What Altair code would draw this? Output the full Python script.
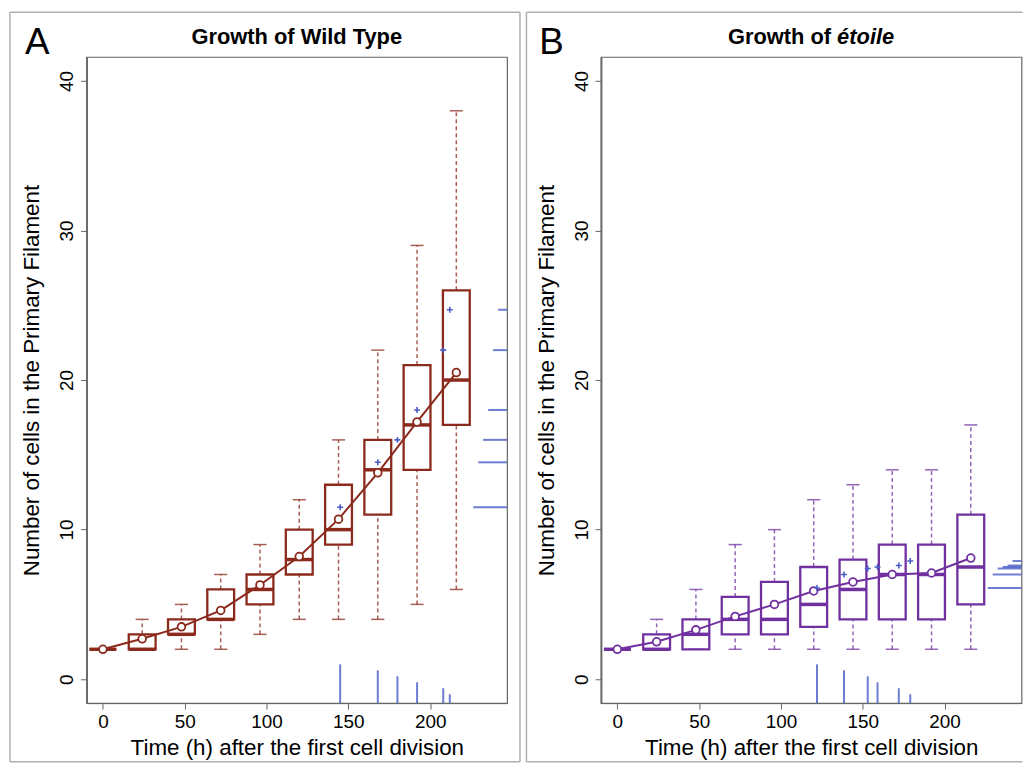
import altair as alt
import pandas as pd

# ---------------- data ----------------
times = [0, 24, 48, 72, 96, 120, 144, 168, 192, 216]

wt_low = [2, 2, 2, 2, 3, 4, 4, 4, 5, 6]
wt_q1 = [2, 2, 3, 4, 5, 7, 9, 11, 14, 17]
wt_med = [2, 2, 3, 4, 6, 8, 10, 14, 17, 20]
wt_q3 = [2, 3, 4, 6, 7, 10, 13, 16, 21, 26]
wt_high = [2, 4, 5, 7, 9, 12, 16, 22, 29, 38]
wt_mean = [2.0, 2.7, 3.5, 4.6, 6.3, 8.2, 10.7, 13.8, 17.2, 20.5]
wt_ev_t = [145, 168, 180, 192, 208, 212]
wt_ev_y = [11.5, 14.5, 16, 18, 22, 24.7]

et_low = [2, 2, 2, 2, 2, 2, 2, 2, 2, 2]
et_q1 = [2, 2, 2, 3, 3, 3.5, 4, 4, 4, 5]
et_med = [2, 2, 3, 4, 4, 5, 6, 7, 7, 7.5]
et_q3 = [2, 3, 4, 5.5, 6.5, 7.5, 8, 9, 9, 11]
et_high = [2, 4, 6, 9, 10, 12, 13, 14, 14, 17]
et_mean = [2.0, 2.5, 3.3, 4.2, 5.0, 5.9, 6.5, 7.0, 7.1, 8.1]
et_ev_t = [122, 138.5, 153, 159, 172, 179]
et_ev_y = [6.1, 7.0, 7.4, 7.5, 7.6, 7.9]

x_ticks = [0, 50, 100, 150, 200]
y_ticks = [0, 10, 20, 30, 40]

# ---------------- layout / style ----------------
X_DOM = [-10, 247]
Y_DOM = [-1.6, 41.6]
W, H = 423, 650
HALF_BOX = 8.2
HALF_CAP = 4.0
FONT = "Liberation Sans"
BLUE = "#4a5cc6"
BORDER = "#b0b0b0"
XPP = (X_DOM[1] - X_DOM[0]) / W
YPP = (Y_DOM[1] - Y_DOM[0]) / H

one = pd.DataFrame({"a": [0]})

xs = alt.Scale(domain=X_DOM, nice=False, zero=False)
ys = alt.Scale(domain=Y_DOM, nice=False, zero=False)

xax = alt.Axis(values=x_ticks, title="Time (h) after the first cell division",
               grid=False, labelFontSize=19, titleFontSize=22.5, tickSize=6,
               labelPadding=4, titlePadding=5, labelFont=FONT, titleFont=FONT,
               titleFontWeight="normal", labelColor="black", titleColor="black",
               domainColor="#666", tickColor="#666", labelFlush=False)
yax = alt.Axis(values=y_ticks, title="Number of cells in the Primary Filament",
               grid=False, labelFontSize=19, titleFontSize=22.5, tickSize=6,
               labelAngle=270, labelPadding=4, labelFont=FONT, titleFont=FONT,
               titleFontWeight="normal", labelColor="black", titleColor="black",
               domainColor="#666", domainWidth=1.8, tickColor="#666",
               titleX=-43, titleY=H / 2, labelFlush=False)


def X(f):
    return alt.X(f, scale=xs, axis=xax)


def Y(f):
    return alt.Y(f, scale=ys, axis=yax)


def panel(letter, title_parts, low, q1, med, q3, high, mean, ev_t, ev_y, color,
          left_px, right_px, draw_right):
    df = pd.DataFrame(dict(t=times, low=low, q1=q1, med=med, q3=q3, high=high, mean=mean))
    df["x0"] = df["t"] - HALF_BOX
    df["x1"] = df["t"] + HALF_BOX
    df["c0"] = df["t"] - HALF_CAP
    df["c1"] = df["t"] + HALF_CAP

    n = len(ev_t)
    ev = pd.DataFrame(dict(t=ev_t, y=ev_y))
    ranks = list(range(n, 0, -1))
    ev["rb0"] = Y_DOM[0]
    ev["rb1"] = [Y_DOM[0] + (6 * k + 3) * YPP for k in ranks]
    ev["rr0"] = [X_DOM[1] - (5 * k + 4) * XPP for k in ranks]
    ev["rr1"] = X_DOM[1]

    base = alt.Chart(df)

    wstyle = dict(color=color, strokeWidth=1.5, strokeDash=[4, 3], opacity=0.75)
    lower_w = base.mark_rule(**wstyle).encode(x=X("t:Q"), y=Y("low:Q"), y2="q1:Q")
    upper_w = base.mark_rule(**wstyle).encode(x=X("t:Q"), y=Y("q3:Q"), y2="high:Q")
    cstyle = dict(color=color, strokeWidth=1.5, opacity=0.75)
    cap_lo = base.mark_rule(**cstyle).encode(x=X("c0:Q"), x2="c1:Q", y=Y("low:Q"))
    cap_hi = base.mark_rule(**cstyle).encode(x=X("c0:Q"), x2="c1:Q", y=Y("high:Q"))
    box = base.mark_rect(fillOpacity=0, stroke=color, strokeWidth=2.3).encode(
        x=X("x0:Q"), x2="x1:Q", y=Y("q1:Q"), y2="q3:Q")
    median = base.mark_rule(color=color, strokeWidth=3.5).encode(
        x=X("x0:Q"), x2="x1:Q", y=Y("med:Q"))
    mline = base.mark_line(color=color, strokeWidth=2).encode(
        x=X("t:Q"), y=Y("mean:Q"))
    mpts = base.mark_point(filled=True, fill="white", stroke=color, strokeWidth=1.8,
                           size=60, opacity=1).encode(x=X("t:Q"), y=Y("mean:Q"))

    evb = alt.Chart(ev)
    crosses = evb.mark_point(shape="M-1,0L1,0M0,-1L0,1", size=36, stroke=BLUE,
                             strokeWidth=1.6, filled=False, opacity=1).encode(
        x=X("t:Q"), y=Y("y:Q"))
    rug_b = evb.mark_rule(color=BLUE, strokeWidth=2, opacity=0.8).encode(
        x=X("t:Q"), y=Y("rb0:Q"), y2="rb1:Q")
    rug_r = evb.mark_rule(color=BLUE, strokeWidth=2, opacity=0.8).encode(
        x=X("rr0:Q"), x2="rr1:Q", y=Y("y:Q"))

    ob = alt.Chart(one)
    layers = [lower_w, upper_w, cap_lo, cap_hi, box, median, mline, mpts,
              rug_b, rug_r, crosses]

    # figure borders
    top_b = ob.mark_rule(color=BORDER, strokeWidth=1.5).encode(
        x=alt.value(left_px), x2=alt.value(right_px), y=alt.value(-45))
    bot_b = ob.mark_rule(color=BORDER, strokeWidth=1.5).encode(
        x=alt.value(left_px), x2=alt.value(right_px), y=alt.value(709))
    left_b = ob.mark_rule(color=BORDER, strokeWidth=1.5).encode(
        x=alt.value(left_px), y=alt.value(-45), y2=alt.value(709))
    layers += [top_b, bot_b, left_b]
    if draw_right:
        right_b = ob.mark_rule(color=BORDER, strokeWidth=1.5).encode(
            x=alt.value(right_px), y=alt.value(-45), y2=alt.value(709))
        layers.append(right_b)

    # panel letter
    layers.append(ob.mark_text(text=letter, fontSize=37, font=FONT, align="left",
                               baseline="alphabetic", color="black").encode(
        x=alt.value(-62), y=alt.value(-3)))
    # title
    if len(title_parts) == 1:
        layers.append(ob.mark_text(text=title_parts[0], fontSize=22, font=FONT,
                                   fontWeight="bold", align="center",
                                   baseline="alphabetic", color="black").encode(
            x=alt.value(W / 2), y=alt.value(-13)))
    else:
        layers.append(ob.mark_text(text=title_parts[0], fontSize=22, font=FONT,
                                   fontWeight="bold", align="right",
                                   baseline="alphabetic", color="black").encode(
            x=alt.value(W / 2 + 20), y=alt.value(-13)))
        layers.append(ob.mark_text(text=title_parts[1], fontSize=22, font=FONT,
                                   fontWeight="bold", fontStyle="italic", align="left",
                                   baseline="alphabetic", color="black").encode(
            x=alt.value(W / 2 + 26), y=alt.value(-13)))

    return alt.layer(*layers).properties(width=W, height=H)


pa = panel("A", ["Growth of Wild Type"], wt_low, wt_q1, wt_med, wt_q3, wt_high, wt_mean,
           wt_ev_t, wt_ev_y, "#8b2a1c", -77, 436, True)
pb = panel("B", ["Growth of", "étoile"], et_low, et_q1, et_med, et_q3, et_high, et_mean,
           et_ev_t, et_ev_y, "#7030a0", -75, 424, False)

chart = alt.hconcat(pa, pb, spacing=2.5).properties(padding=0).configure_view(
    stroke="#666", strokeWidth=1.2
).configure_axis(labelFont=FONT, titleFont=FONT)

chart.save("out.html", embed_options={"renderer": "svg", "actions": False})
